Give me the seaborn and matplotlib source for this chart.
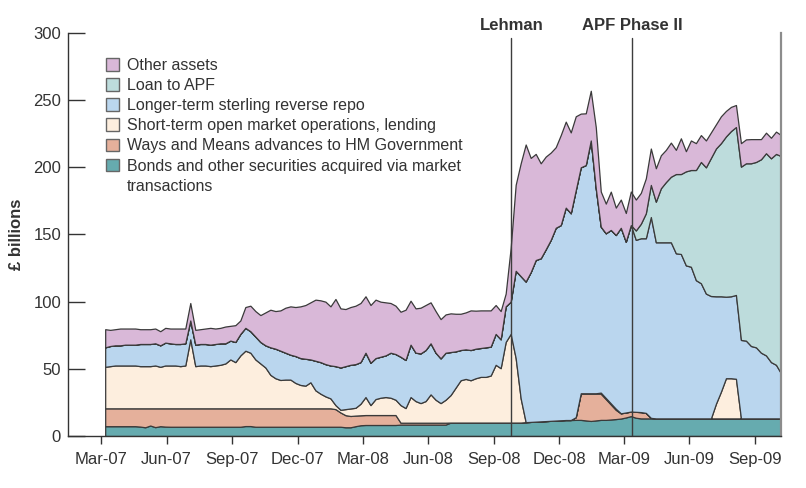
import numpy as np
import pandas as pd
import matplotlib
matplotlib.use("Agg")
import matplotlib.pyplot as plt
import matplotlib.dates as mdates
import matplotlib.transforms as mtransforms
from matplotlib.patches import Patch
import seaborn as sns

sns.set_theme(style="white")
plt.rcParams["font.family"] = ["Liberation Sans", "DejaVu Sans"]

# ---------------- data (weekly, £ billions) ----------------
weeks = pd.date_range("2007-03-07", periods=136, freq="7D")

bonds = [
    7.3, 7.3, 7.3, 7.3, 7.3, 7.3, 7.3, 7.0, 6.5, 7.8,
    6.6, 7.3, 7.0, 6.9, 6.9, 6.9, 6.9, 6.9, 6.9, 6.9,
    6.9, 6.9, 6.9, 6.9, 6.9, 6.9, 6.9, 6.9, 7.4, 7.4,
    6.9, 6.9, 6.9, 6.9, 6.9, 6.9, 6.9, 6.9, 6.9, 6.9,
    6.9, 6.9, 6.9, 6.9, 6.9, 6.9, 6.9, 6.9, 6.5, 6.5,
    7.3, 8.0, 8.2, 8.2, 8.2, 8.2, 8.2, 8.2, 8.2, 8.5,
    8.5, 8.5, 8.5, 8.5, 8.5, 8.5, 8.5, 8.5, 8.5, 10.0,
    10.0, 10.0, 10.0, 10.0, 10.0, 10.0, 10.0, 10.0, 10.0, 10.0,
    10.0, 10.0, 10.0, 10.0, 10.3, 10.5, 10.7, 10.9, 11.1, 11.3,
    11.5, 11.7, 11.9, 11.9, 12.0, 12.0, 11.6, 11.2, 11.6, 12.0,
    12.0, 12.3, 12.6, 13.0, 13.8, 14.8, 13.6, 13.1, 13.1, 13.1,
    13.1, 13.1, 13.1, 13.1, 13.1, 13.1, 13.1, 13.1, 13.1, 13.1,
    13.1, 13.1, 13.1, 13.1, 13.1, 13.1, 13.1, 13.1, 13.1, 13.1,
    13.1, 13.1, 13.1, 13.1, 13.1, 13.1,
]

ways_means = [
    13.3, 13.3, 13.3, 13.3, 13.3, 13.3, 13.3, 13.6, 14.1, 12.8,
    14.0, 13.3, 13.6, 13.7, 13.7, 13.7, 13.7, 13.7, 13.7, 13.7,
    13.7, 13.7, 13.7, 13.7, 13.7, 13.7, 13.7, 13.7, 13.2, 13.2,
    13.7, 13.7, 13.7, 13.7, 13.7, 13.7, 13.7, 13.7, 13.7, 13.7,
    13.7, 13.7, 13.7, 13.7, 13.7, 13.7, 13.1, 10.6, 9.0, 8.4,
    7.9, 7.4, 7.4, 7.4, 7.4, 7.4, 7.4, 7.4, 7.4, 1.4,
    1.4, 1.4, 1.4, 1.4, 1.4, 1.4, 1.4, 1.4, 1.4, 0.0,
    0.0, 0.0, 0.0, 0.0, 0.0, 0.0, 0.0, 0.0, 0.0, 0.0,
    0.0, 0.0, 0.0, 0.0, 0.0, 0.0, 0.0, 0.0, 0.0, 0.0,
    0.0, 0.0, 0.0, 0.0, 2.0, 19.8, 20.2, 20.6, 20.2, 19.5,
    15.5, 11.2, 6.9, 3.9, 3.7, 3.4, 4.4, 4.7, 4.1, 0.4,
    0.0, 0.0, 0.0, 0.0, 0.0, 0.0, 0.0, 0.0, 0.0, 0.0,
    0.0, 0.0, 0.0, 0.0, 0.0, 0.0, 0.0, 0.0, 0.0, 0.0,
    0.0, 0.0, 0.0, 0.0, 0.0, 0.0,
]

short_term = [
    30.9, 31.4, 31.9, 31.9, 31.9, 31.9, 31.9, 31.4, 31.4, 31.4,
    31.9, 30.9, 31.9, 31.9, 31.9, 31.4, 31.9, 51.4, 31.4, 31.9,
    31.9, 31.4, 31.9, 32.4, 33.4, 36.4, 34.4, 39.4, 42.9, 41.4,
    36.4, 33.4, 30.4, 24.9, 22.4, 21.1, 21.4, 21.4, 18.9, 17.4,
    16.9, 19.4, 13.4, 10.9, 8.9, 7.4, 3.0, 2.0, 4.5, 5.6,
    5.8, 8.6, 13.4, 7.4, 11.9, 12.9, 13.4, 12.9, 11.4, 13.1,
    10.9, 19.1, 16.1, 14.6, 16.1, 21.1, 17.1, 14.6, 17.1, 20.5,
    26.0, 31.5, 32.5, 31.5, 33.0, 34.0, 34.0, 35.0, 43.0, 40.5,
    60.0, 66.0, 48.0, 18.0, 0.0, 0.0, 0.0, 0.0, 0.0, 0.0,
    0.0, 0.0, 0.0, 0.0, 0.0, 0.0, 0.0, 0.0, 0.0, 0.8,
    0.8, 0.8, 0.8, 0.0, 0.0, 0.0, 0.0, 0.0, 0.0, 0.0,
    0.0, 0.0, 0.0, 0.0, 0.0, 0.0, 0.0, 0.0, 0.0, 0.0,
    0.0, 0.0, 10.9, 19.9, 29.9, 29.9, 29.5, 0.0, 0.0, 0.0,
    0.0, 0.0, 0.0, 0.0, 0.0, 0.0,
]

longer_term = [
    14.5, 15.0, 15.0, 15.0, 15.5, 15.5, 15.5, 16.5, 16.5, 16.5,
    16.5, 16.0, 17.0, 16.5, 16.0, 16.5, 16.5, 14.0, 16.0, 16.0,
    16.0, 16.0, 16.0, 16.0, 15.0, 14.0, 15.0, 16.0, 17.0, 16.0,
    17.0, 16.0, 16.5, 20.5, 22.0, 21.8, 20.0, 18.5, 20.0, 20.0,
    20.0, 17.0, 22.0, 23.5, 24.0, 24.5, 29.0, 31.5, 32.0, 32.5,
    32.5, 31.0, 33.0, 31.5, 30.5, 30.5, 31.0, 33.5, 34.0, 36.0,
    35.8, 39.0, 36.0, 37.0, 38.0, 38.0, 35.0, 33.3, 35.0, 32.0,
    27.0, 22.5, 22.0, 22.5, 22.0, 21.5, 22.0, 21.5, 23.0, 21.5,
    26.5, 24.0, 65.0, 91.0, 104.7, 111.5, 120.3, 121.4, 127.9, 134.7,
    143.5, 145.3, 158.1, 153.9, 169.0, 168.2, 169.9, 188.2, 152.6, 123.5,
    122.6, 129.1, 129.3, 138.1, 127.1, 138.8, 128.0, 129.4, 130.0, 149.5,
    131.1, 131.1, 131.1, 131.1, 122.9, 122.4, 113.9, 112.9, 102.9, 100.6,
    92.9, 91.1, 80.0, 71.0, 60.7, 61.0, 62.4, 58.4, 57.9, 53.9,
    52.9, 48.9, 46.9, 41.9, 39.9, 33.6,
]

loan_apf = [
    0, 0, 0, 0, 0, 0, 0, 0, 0, 0,
    0, 0, 0, 0, 0, 0, 0, 0, 0, 0,
    0, 0, 0, 0, 0, 0, 0, 0, 0, 0,
    0, 0, 0, 0, 0, 0, 0, 0, 0, 0,
    0, 0, 0, 0, 0, 0, 0, 0, 0, 0,
    0, 0, 0, 0, 0, 0, 0, 0, 0, 0,
    0, 0, 0, 0, 0, 0, 0, 0, 0, 0,
    0, 0, 0, 0, 0, 0, 0, 0, 0, 0,
    0, 0, 0, 0, 0, 0, 0, 0, 0, 0,
    0, 0, 0, 0, 0, 0, 0, 0, 0, 0,
    0, 0, 0, 0, 0, 0, 7.0, 10.8, 18.6, 23.9,
    30.2, 40.2, 44.8, 48.8, 59.0, 59.5, 70.0, 72.0, 82.0, 90.3,
    94.0, 102.8, 110.0, 114.0, 119.3, 123.0, 125.0, 129.0, 132.0, 136.0,
    138.0, 144.0, 150.5, 151.7, 157.0, 161.7,
]

other_assets = [
    13.5, 12.0, 12.0, 12.5, 12.0, 12.0, 12.0, 11.0, 11.0, 11.0,
    11.0, 10.5, 11.0, 11.0, 11.5, 11.5, 11.0, 13.0, 11.0, 11.0,
    11.5, 12.5, 11.5, 11.5, 12.5, 11.0, 12.5, 10.0, 15.5, 19.0,
    19.0, 20.0, 24.5, 28.0, 28.0, 30.0, 33.5, 36.0, 36.5, 38.5,
    40.0, 42.5, 45.5, 46.0, 46.5, 44.0, 50.0, 44.0, 42.5, 43.0,
    43.5, 44.0, 42.0, 43.0, 43.5, 41.0, 39.5, 37.0, 36.0, 33.5,
    37.4, 32.7, 33.0, 34.0, 33.5, 30.5, 31.0, 29.2, 28.5, 28.8,
    28.0, 27.0, 27.5, 29.5, 28.3, 28.0, 27.5, 27.0, 21.5, 21.0,
    9.5, 40.0, 64.0, 84.0, 102.0, 85.0, 79.0, 70.7, 69.0, 65.0,
    60.0, 67.0, 64.0, 60.2, 55.0, 40.0, 38.5, 37.0, 45.6, 26.2,
    22.1, 28.5, 20.4, 21.0, 21.4, 25.0, 23.0, 23.0, 26.0, 27.1,
    24.9, 24.6, 24.0, 25.4, 18.0, 26.6, 15.0, 22.0, 20.0, 20.0,
    20.0, 19.0, 18.0, 20.0, 19.0, 18.0, 16.4, 17.5, 17.8, 18.0,
    17.0, 15.0, 15.3, 15.3, 16.6, 15.6,
]

series_labels = [
    "Bonds and other securities acquired via market transactions",
    "Ways and Means advances to HM Government",
    "Short-term open market operations, lending",
    "Longer-term sterling reverse repo",
    "Loan to APF",
    "Other assets",
]
series_colors = ["#66abaf", "#e5b09b", "#fdeede", "#bad6ee", "#bddcdc", "#d9b8d8"]

events = ["Lehman", "APF Phase II"]
event_dates = ["2008-09-25", "2009-03-13"]

tick_dates = pd.date_range("2007-03-01", "2009-09-01", freq="3MS")
y_ticks = [0, 50, 100, 150, 200, 250, 300]

# ---------------- figure ----------------
fig = plt.figure(figsize=(8.06, 4.88), dpi=100)
ax = fig.add_axes([68 / 806, 1 - 436 / 488, 713 / 806, 403 / 488])

df = pd.DataFrame({
    "bonds": bonds, "wm": ways_means, "st": short_term,
    "lt": longer_term, "apf": loan_apf, "oth": other_assets,
}, index=weeks)

ax.stackplot(df.index, df["bonds"], df["wm"], df["st"], df["lt"],
             df["apf"], df["oth"], colors=series_colors,
             edgecolor="#3a3a3a", linewidth=0.9, zorder=2)

text_col = "#333333"
ax.set_ylim(0, 300)
ax.set_xlim(pd.Timestamp("2007-01-14"), pd.Timestamp("2009-10-07"))
ax.set_yticks(y_ticks)
ax.set_xticks(tick_dates)
ax.xaxis.set_major_formatter(mdates.DateFormatter("%b-%y"))

ax.tick_params(axis="y", direction="in", length=12, width=1, color=text_col,
               labelsize=12, labelcolor=text_col, pad=5, left=True)
ax.tick_params(axis="x", direction="out", length=5.5, width=1, color=text_col,
               labelsize=12, labelcolor=text_col, pad=6, bottom=True)

ax.spines["top"].set_visible(False)
ax.spines["left"].set_color(text_col)
ax.spines["bottom"].set_color(text_col)
ax.spines["right"].set_color("#8c8c8c")
ax.spines["right"].set_linewidth(1.6)
for s in ["left", "bottom"]:
    ax.spines[s].set_linewidth(1.0)

ax.set_ylabel("£ billions", fontsize=12, fontweight="bold", color=text_col)
ax.yaxis.set_label_coords(-0.062, 0.5)

trans = mtransforms.blended_transform_factory(ax.transData, ax.transAxes)
for name, d in zip(events, event_dates):
    ax.axvline(pd.Timestamp(d), ymin=0, ymax=0.988, color="#3d3d3d", lw=1.0, zorder=3)
    ax.text(pd.Timestamp(d), 1.018, name, transform=trans, ha="center", va="center",
            fontsize=12, fontweight="bold", color=text_col)

# legend (top-to-bottom order as in the reference)
order = [5, 4, 3, 2, 1, 0]
handles = [Patch(facecolor=series_colors[i], edgecolor="#666666", linewidth=1.0) for i in order]
labels = [series_labels[i] for i in order]
labels[-1] = "Bonds and other securities acquired via market"
handles.append(Patch(facecolor="none", edgecolor="none"))
labels.append("transactions")
leg = ax.legend(handles, labels, loc="upper left", bbox_to_anchor=(0.053, 0.938),
                frameon=False, fontsize=11.5, handlelength=0.85, handleheight=0.85,
                handletextpad=0.45, labelspacing=0.32, borderpad=0, borderaxespad=0)
for t in leg.get_texts():
    t.set_color(text_col)

fig.savefig("out.png", dpi=100)
